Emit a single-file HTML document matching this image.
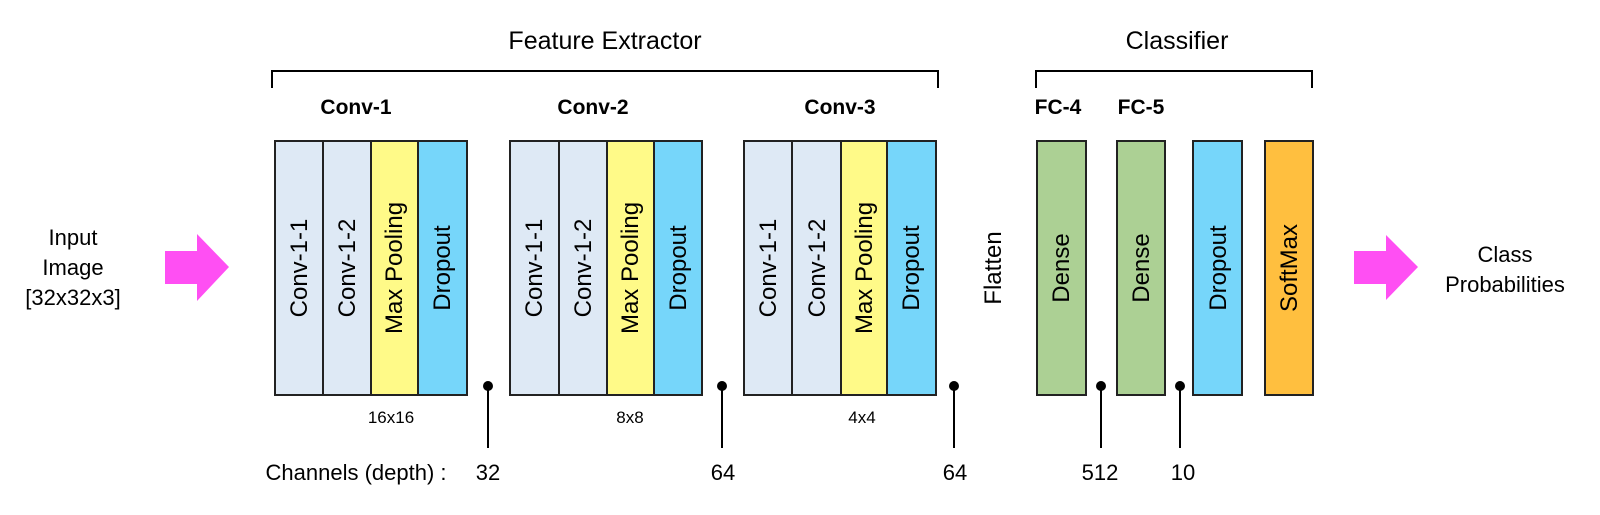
<!DOCTYPE html>
<html><head><meta charset="utf-8"><style>
html,body{margin:0;padding:0;background:#fff;}
svg{display:block;font-family:"Liberation Sans",sans-serif;}
</style></head><body>
<svg width="1600" height="515" viewBox="0 0 1600 515" xmlns="http://www.w3.org/2000/svg">
<g fill="#000" font-size="22" text-anchor="middle">
<text x="605" y="49" font-size="25">Feature Extractor</text>
<text x="1177" y="49" font-size="25">Classifier</text>
<text x="73" y="245">Input</text>
<text x="73" y="275">Image</text>
<text x="73" y="305">[32x32x3]</text>
<text x="1505" y="262">Class</text>
<text x="1505" y="292">Probabilities</text>
</g>
<g fill="none" stroke="#000" stroke-width="2">
<path d="M272 88 V71 H938 V88"/>
<path d="M1036 88 V71 H1312 V88"/>
</g>
<g font-weight="bold" font-size="21" text-anchor="middle">
<text x="356" y="114">Conv-1</text>
<text x="593" y="114">Conv-2</text>
<text x="840" y="114">Conv-3</text>
<text x="1058" y="114">FC-4</text>
<text x="1141" y="114">FC-5</text>
</g>
<polygon points="165,251 197,251 197,234 229,267 197,301 197,284 165,284" fill="#ff4ff3"/>
<polygon points="1354,251 1386,251 1386,235 1418,267 1386,300 1386,284 1354,284" fill="#ff4ff3"/>
<g stroke="#222" stroke-width="2">
<rect x="275" y="141" width="48" height="254" fill="#dee9f5"/>
<rect x="323" y="141" width="48" height="254" fill="#dee9f5"/>
<rect x="371" y="141" width="47" height="254" fill="#fffa88"/>
<rect x="418" y="141" width="49" height="254" fill="#76d6fa"/>
<rect x="510" y="141" width="49" height="254" fill="#dee9f5"/>
<rect x="559" y="141" width="48" height="254" fill="#dee9f5"/>
<rect x="607" y="141" width="47" height="254" fill="#fffa88"/>
<rect x="654" y="141" width="48" height="254" fill="#76d6fa"/>
<rect x="744" y="141" width="48" height="254" fill="#dee9f5"/>
<rect x="792" y="141" width="49" height="254" fill="#dee9f5"/>
<rect x="841" y="141" width="46" height="254" fill="#fffa88"/>
<rect x="887" y="141" width="49" height="254" fill="#76d6fa"/>
<rect x="1037" y="141" width="49" height="254" fill="#acd094"/>
<rect x="1117" y="141" width="48" height="254" fill="#acd094"/>
<rect x="1193" y="141" width="49" height="254" fill="#76d6fa"/>
<rect x="1265" y="141" width="48" height="254" fill="#ffbf3f"/>
</g>
<g font-size="24" fill="#000" text-anchor="middle">
<text transform="translate(307,268) rotate(-90)">Conv-1-1</text>
<text transform="translate(355,268) rotate(-90)">Conv-1-2</text>
<text transform="translate(402,268) rotate(-90)">Max Pooling</text>
<text transform="translate(450,268) rotate(-90)">Dropout</text>
<text transform="translate(542,268) rotate(-90)">Conv-1-1</text>
<text transform="translate(591,268) rotate(-90)">Conv-1-2</text>
<text transform="translate(638,268) rotate(-90)">Max Pooling</text>
<text transform="translate(686,268) rotate(-90)">Dropout</text>
<text transform="translate(776,268) rotate(-90)">Conv-1-1</text>
<text transform="translate(825,268) rotate(-90)">Conv-1-2</text>
<text transform="translate(872,268) rotate(-90)">Max Pooling</text>
<text transform="translate(919,268) rotate(-90)">Dropout</text>
<text transform="translate(1001,268) rotate(-90)">Flatten</text>
<text transform="translate(1069,268) rotate(-90)">Dense</text>
<text transform="translate(1149,268) rotate(-90)">Dense</text>
<text transform="translate(1226,268) rotate(-90)">Dropout</text>
<text transform="translate(1297,268) rotate(-90)">SoftMax</text>
</g>
<g font-size="17" text-anchor="middle">
<text x="391" y="423">16x16</text>
<text x="630" y="423">8x8</text>
<text x="862" y="423">4x4</text>
</g>
<g stroke="#000" stroke-width="2">
<line x1="488" y1="386" x2="488" y2="448"/>
<line x1="722" y1="386" x2="722" y2="448"/>
<line x1="954" y1="386" x2="954" y2="448"/>
<line x1="1101" y1="386" x2="1101" y2="448"/>
<line x1="1180" y1="386" x2="1180" y2="448"/>
</g>
<g fill="#000">
<circle cx="488" cy="386" r="5"/>
<circle cx="722" cy="386" r="5"/>
<circle cx="954" cy="386" r="5"/>
<circle cx="1101" cy="386" r="5"/>
<circle cx="1180" cy="386" r="5"/>
</g>
<g font-size="22" text-anchor="middle">
<text x="356" y="480">Channels (depth) :</text>
<text x="488" y="480">32</text>
<text x="723" y="480">64</text>
<text x="955" y="480">64</text>
<text x="1100" y="480">512</text>
<text x="1183" y="480">10</text>
</g>
</svg>
</body></html>
